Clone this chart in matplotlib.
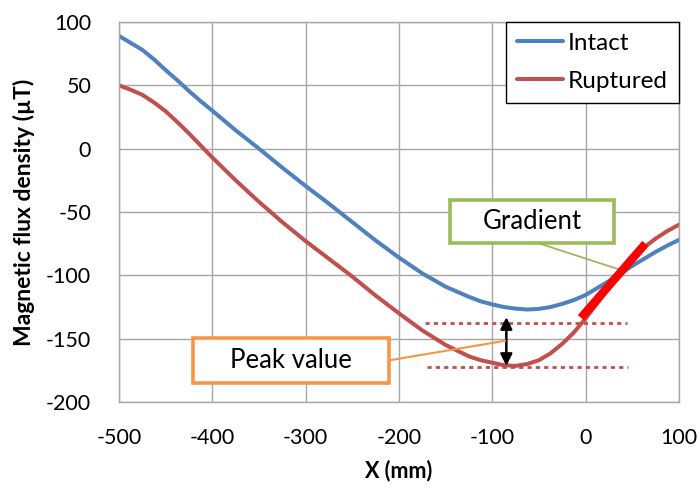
import matplotlib
matplotlib.use("Agg")
import matplotlib.pyplot as plt
from matplotlib.patches import Rectangle

plt.rcParams['font.family'] = ['Lato', 'DejaVu Sans']
plt.rcParams['axes.unicode_minus'] = False

x_mm = [-500, -487.5, -475, -462.5, -450, -437.5, -425, -412.5, -400, -375, -350, -325,
        -300, -275, -250, -225, -200, -175, -150, -125, -112.5, -100, -87.5, -75,
        -62.5, -50, -37.5, -25, -12.5, 0, 25, 50, 62.5, 75, 87.5, 100]
intact = [89, 83.5, 78, 70.5, 62, 54, 45.5, 37.5, 30, 14.5, 0, -15,
          -29.5, -43.5, -58, -72.5, -86, -98.5, -109, -117, -120.5, -123, -125, -126.3,
          -127, -126.5, -125, -122.5, -119.5, -115.5, -104.5, -92.5, -87, -81.5, -76.5, -72]
ruptured = [50, 46.5, 42.5, 36.5, 29.5, 21, 12, 2.5, -7, -25, -42, -58,
            -73, -87, -101, -116, -130, -143.5, -155, -164, -167, -169, -171, -171.5,
            -170, -167, -161.5, -154, -145, -134, -110, -87, -78, -71, -65, -60]

x_ticks = [-500, -400, -300, -200, -100, 0, 100]
y_ticks = [-200, -150, -100, -50, 0, 50, 100]

# annotation geometry (data units)
peak_upper = -138
peak_lower = -172
peak_span_upper = (-172, 44)
peak_span_lower = (-170, 45)
arrow_x = -85
arrow_range = (-133, -171.5)
grad_seg_x = (-5, 64)
grad_seg_y = (-133.5, -75)

fig = plt.figure(figsize=(7, 4.91), dpi=100)
ax = fig.add_axes([119/700, 1-402/491, 560/700, 380/491])

grid_c = '#A6A6A6'
ax.set_xlim(-500, 100)
ax.set_ylim(-200, 100)
ax.set_xticks(x_ticks)
ax.set_yticks(y_ticks)
ax.grid(True, color=grid_c, linewidth=1.0)
ax.set_axisbelow(True)
for s in ax.spines.values():
    s.set_color(grid_c)
    s.set_linewidth(1.0)
ax.tick_params(length=0, labelsize=15.5)
ax.tick_params(axis='y', pad=20)
ax.tick_params(axis='x', pad=19)

l1, = ax.plot(x_mm, intact, color='#4F81BD', lw=2.9, label='Intact',
              solid_capstyle='round', solid_joinstyle='round')
l2, = ax.plot(x_mm, ruptured, color='#C0504D', lw=2.9, label='Ruptured',
              solid_capstyle='round', solid_joinstyle='round')

ax.set_xlabel('X (mm)', fontsize=15.5, fontweight='bold', labelpad=8)
ax.set_ylabel('Magnetic flux density (µT)', fontsize=16.5, fontweight='bold', labelpad=8)

# peak dotted lines
ax.plot(peak_span_upper, [peak_upper, peak_upper], color='#C0504D', lw=2.0,
        linestyle=(0, (1.5, 1.5)))
ax.plot(peak_span_lower, [peak_lower, peak_lower], color='#C0504D', lw=2.0,
        linestyle=(0, (1.5, 1.5)))
# double arrow
ax.annotate('', xy=(arrow_x, arrow_range[1]), xytext=(arrow_x, arrow_range[0]),
            arrowprops=dict(arrowstyle='<|-|>,head_width=0.35,head_length=0.7',
                            color='black', lw=1.8, shrinkA=0, shrinkB=0))
# gradient segment
ax.plot(grad_seg_x, grad_seg_y, color='#FF0000', lw=6, solid_capstyle='butt', zorder=5)

# Gradient callout
ax.plot([-49, 37], [-75, -95.6], color='#9BBB59', lw=1.3, zorder=4)
ax.add_patch(Rectangle((-145.4, -74.2), 175.8, 33.9, facecolor='white',
                       edgecolor='#9BBB59', lw=2.6, zorder=6))
ax.text(-57.5, -57.8, 'Gradient', ha='center', va='center', fontsize=18.5, zorder=7)

# Peak value callout
ax.plot([-209.6, -86.4], [-167, -151.7], color='#F79646', lw=1.5, zorder=4)
ax.add_patch(Rectangle((-420.7, -184.8), 210.0, 35.5, facecolor='white',
                       edgecolor='#F79646', lw=2.6, zorder=6, clip_on=False))
ax.text(-315.7, -167.6, 'Peak value', ha='center', va='center', fontsize=18.5, zorder=7)

leg = ax.legend(handles=[l1, l2], loc='upper right', fontsize=17.5, frameon=True,
                fancybox=False, edgecolor='black', framealpha=1,
                borderaxespad=0.0, handlelength=1.9, handletextpad=0.2,
                labelspacing=0.7, borderpad=0.45)
leg.get_frame().set_linewidth(1.0)

fig.savefig('out.png', dpi=100)
